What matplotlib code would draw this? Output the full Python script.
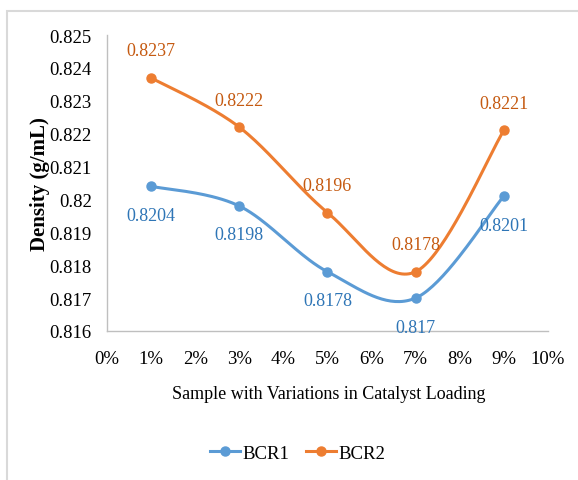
import numpy as np
import matplotlib
matplotlib.use("Agg")
import matplotlib.pyplot as plt
from matplotlib.patches import Rectangle
from matplotlib.lines import Line2D

loading = [0.01, 0.03, 0.05, 0.07, 0.09]
bcr1 = [0.8204, 0.8198, 0.8178, 0.817, 0.8201]
bcr2 = [0.8237, 0.8222, 0.8196, 0.8178, 0.8221]
series_names = ["BCR1", "BCR2"]
x_ticks = [0.00, 0.01, 0.02, 0.03, 0.04, 0.05, 0.06, 0.07, 0.08, 0.09, 0.10]
y_ticks = [0.816, 0.817, 0.818, 0.819, 0.820, 0.821, 0.822, 0.823, 0.824, 0.825]

blue = "#5B9BD5"
orange = "#ED7D31"
blue_txt = "#2E75B6"
orange_txt = "#C55A11"

plt.rcParams['font.family'] = ['Liberation Serif', 'DejaVu Serif']


def smooth(xs, ys, n=40):
    xs = np.asarray(xs, float); ys = np.asarray(ys, float)
    px = np.concatenate([[xs[0]], xs, [xs[-1]]])
    py = np.concatenate([[ys[0]], ys, [ys[-1]]])
    outx, outy = [], []
    t = np.linspace(0, 1, n)
    for i in range(1, len(px) - 2):
        p0 = np.array([px[i], py[i]]); p3 = np.array([px[i + 1], py[i + 1]])
        p1 = p0 + (np.array([px[i + 1], py[i + 1]]) - np.array([px[i - 1], py[i - 1]])) / 6
        p2 = p3 - (np.array([px[i + 2], py[i + 2]]) - np.array([px[i], py[i]])) / 6
        b = ((1 - t) ** 3)[:, None] * p0 + (3 * (1 - t) ** 2 * t)[:, None] * p1 + \
            (3 * (1 - t) * t ** 2)[:, None] * p2 + (t ** 3)[:, None] * p3
        outx.extend(b[:, 0]); outy.extend(b[:, 1])
    return outx, outy


fig = plt.figure(figsize=(5.78, 4.81), dpi=100)
ax = fig.add_axes([0.185, 0.31, 0.763, 0.615])

for ys, col, tcol, off in [(bcr1, blue, blue_txt, -29), (bcr2, orange, orange_txt, 27)]:
    sx, sy = smooth(loading, ys)
    ax.plot(sx, sy, color=col, lw=2.2, solid_capstyle='round')
    ax.plot(loading, ys, 'o', color=col, ms=6.5)
    for xv, yv in zip(loading, ys):
        ax.annotate(f"{yv:g}", (xv, yv), xytext=(0, off), textcoords='offset pixels',
                    ha='center', va='center', color=tcol, fontsize=13)

ax.set_xlim(0, 0.10)
ax.set_ylim(0.816, 0.825)
ax.set_xticks(x_ticks)
ax.set_xticklabels([f"{round(v*100)}%" for v in x_ticks])
ax.set_yticks(y_ticks)
ax.set_yticklabels([f"{v:g}" for v in y_ticks])
ax.tick_params(length=0, labelsize=13.5)
ax.tick_params(axis='x', pad=14)
ax.tick_params(axis='y', pad=11)
for s in ['top', 'right']:
    ax.spines[s].set_visible(False)
for s in ['left', 'bottom']:
    ax.spines[s].set_color('#BFBFBF')
    ax.spines[s].set_linewidth(1.0)

fig.text(40 / 578, 1 - 184 / 481, "Density (g/mL)", rotation=90,
         ha='center', va='center', fontsize=15, fontweight='bold')
fig.text(0.568, 1 - 395 / 481, "Sample with Variations in Catalyst Loading",
         ha='center', va='center', fontsize=13)

handles = [Line2D([], [], color=blue, lw=2.2, marker='o', ms=6.5),
           Line2D([], [], color=orange, lw=2.2, marker='o', ms=6.5)]
fig.legend(handles, series_names, loc='center', bbox_to_anchor=(0.515, 1 - 454 / 481),
           ncol=2, frameon=False, fontsize=13.5, handlelength=1.6, handletextpad=0.1,
           columnspacing=0.9)

fig.patches.append(Rectangle((7 / 578, -0.1), 1.2, 1 - 12 / 481 + 0.1,
                             transform=fig.transFigure, fill=False,
                             edgecolor='#D9D9D9', lw=1.5))

fig.savefig("out.png", dpi=100)
